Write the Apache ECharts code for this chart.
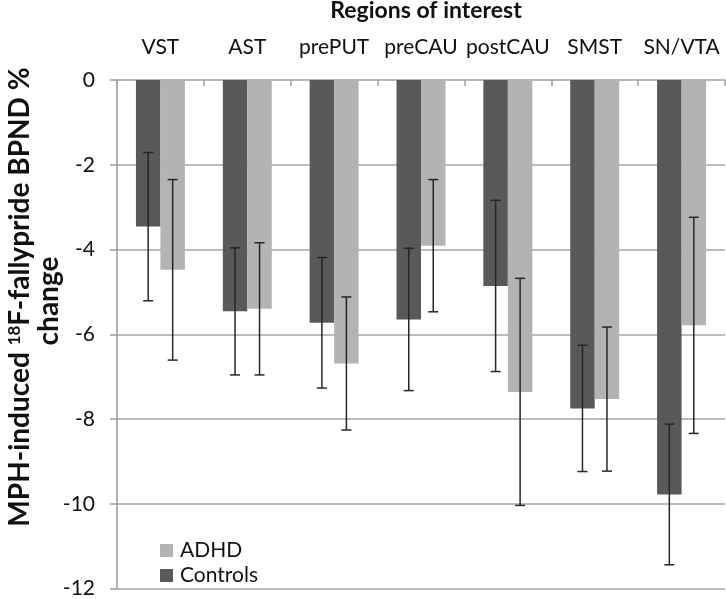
<!DOCTYPE html>
<html>
<head>
<meta charset="utf-8">
<script src="https://cdn.jsdelivr.net/npm/echarts@6/dist/echarts.min.js"></script>
<style>
html,body{margin:0;padding:0;background:#fff;}
#chart{width:726px;height:599px;}
</style>
</head>
<body>
<div id="chart"></div>
<script>
var categories = ['VST', 'AST', 'prePUT', 'preCAU', 'postCAU', 'SMST', 'SN/VTA'];
var controlsValues = [-3.46, -5.46, -5.73, -5.65, -4.86, -7.75, -9.78];
var controlsErrors = [1.75, 1.50, 1.54, 1.68, 2.02, 1.49, 1.66];
var adhdValues = [-4.48, -5.40, -6.69, -3.91, -7.36, -7.53, -5.79];
var adhdErrors = [2.13, 1.56, 1.57, 1.56, 2.68, 1.70, 2.55];
var yTicks = [0, -2, -4, -6, -8, -10, -12];

var FONT = 'Lato';
var BAR_FRAC = 0.282;

function errData(vals, errs) {
  return vals.map(function (v, i) { return [i, v, errs[i]]; });
}
function errSeries(name, vals, errs, side) {
  return {
    type: 'custom',
    name: name + ' err',
    z: 10,
    silent: true,
    data: errData(vals, errs),
    encode: { x: 0, y: 1 },
    renderItem: function (params, api) {
      var idx = api.value(0), m = api.value(1), e = api.value(2);
      var band = api.size([1, 0])[0];
      var c = api.coord([idx, m]);
      var x = c[0] + side * band * BAR_FRAC / 2;
      var yt = api.coord([idx, m + e])[1];
      var yb = api.coord([idx, m - e])[1];
      var cap = 5;
      var st = { stroke: '#262626', lineWidth: 1.5 };
      return {
        type: 'group',
        children: [
          { type: 'line', shape: { x1: x, y1: yt, x2: x, y2: yb }, style: st },
          { type: 'line', shape: { x1: x - cap, y1: yt, x2: x + cap, y2: yt }, style: st },
          { type: 'line', shape: { x1: x - cap, y1: yb, x2: x + cap, y2: yb }, style: st }
        ]
      };
    }
  };
}

var chart = echarts.init(document.getElementById('chart'));
chart.setOption({
  animation: false,
  backgroundColor: '#ffffff',
  textStyle: { fontFamily: FONT },
  grid: { left: 117, right: 1, top: 80, bottom: 8, containLabel: false },
  legend: {
    data: ['ADHD', 'Controls'],
    orient: 'vertical',
    left: 155,
    top: 535,
    icon: 'rect',
    itemWidth: 13,
    itemHeight: 13,
    itemGap: 4,
    textStyle: { fontFamily: FONT, fontSize: 21, color: '#111', lineHeight: 19, padding: [0, 0, 0, 2] }
  },
  xAxis: {
    type: 'category',
    position: 'top',
    data: categories,
    axisLine: { show: true, lineStyle: { color: '#b5b5b5', width: 1.5 } },
    axisTick: { show: true, inside: true, length: 6, lineStyle: { color: '#a0a0a0', width: 1.5 } },
    axisLabel: { interval: 0, hideOverlap: false, margin: 22, fontFamily: FONT, fontSize: 21, color: '#111' },
    splitLine: { show: false }
  },
  yAxis: {
    type: 'value',
    min: -12,
    max: 0,
    interval: 2,
    axisLine: { show: true, lineStyle: { color: '#9a9a9a', width: 1.5 } },
    axisTick: { show: true, length: 7, lineStyle: { color: '#9a9a9a', width: 1.5 } },
    axisLabel: {
      margin: 22, fontFamily: FONT, fontSize: 21, color: '#111',
      formatter: function (v) { return yTicks.indexOf(v) >= 0 ? String(v) : ''; }
    },
    splitLine: { show: true, lineStyle: { color: '#a6a6a6', width: 1.5 } }
  },
  graphic: [
    {
      type: 'text',
      x: 426, y: 11,
      style: {
        text: 'Regions of interest',
        font: 'bold 23px ' + FONT,
        fill: '#111',
        align: 'center',
        verticalAlign: 'middle'
      }
    },
    {
      type: 'text',
      x: 20, y: 297,
      rotation: Math.PI / 2,
      style: {
        text: 'MPH-induced {sup|18}F-fallypride BPND %',
        font: 'bold 28px ' + FONT,
        fill: '#111',
        align: 'center',
        verticalAlign: 'middle',
        rich: {
          sup: { font: 'bold 17px ' + FONT, fill: '#111', verticalAlign: 'top', lineHeight: 17, padding: [0, 0, 8, 0] }
        }
      }
    },
    {
      type: 'text',
      x: 49, y: 301,
      rotation: Math.PI / 2,
      style: {
        text: 'change',
        font: 'bold 28px ' + FONT,
        fill: '#111',
        align: 'center',
        verticalAlign: 'middle'
      }
    }
  ],
  series: [
    {
      name: 'Controls',
      type: 'bar',
      data: controlsValues,
      barWidth: (BAR_FRAC * 100) + '%',
      barGap: '0%',
      itemStyle: { color: '#595959' }
    },
    {
      name: 'ADHD',
      type: 'bar',
      data: adhdValues,
      barWidth: (BAR_FRAC * 100) + '%',
      barGap: '0%',
      itemStyle: { color: '#b3b3b3' }
    },
    errSeries('Controls', controlsValues, controlsErrors, -1),
    errSeries('ADHD', adhdValues, adhdErrors, 1)
  ]
});
</script>
</body>
</html>
